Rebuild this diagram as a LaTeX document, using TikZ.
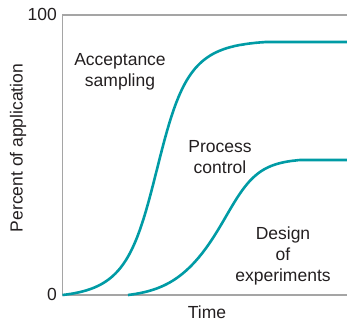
\documentclass[tikz,border=0pt]{standalone}
\usepackage{fontspec}
\setmainfont{Liberation Sans}
\definecolor{teal1}{RGB}{0,155,165}
\definecolor{axisgray}{RGB}{165,165,165}
\definecolor{txt}{RGB}{35,31,32}
\begin{document}
\begin{tikzpicture}[x=1pt,y=-1pt,
  declare function={
    Fa(\t)=0.5/(1+exp(-(\t-157)/12))+0.5/(1+exp(-(\t-157)/25));
    Fb(\t)=1/(1+exp(-(\t-219)/(21-3*tanh((\t-219)/30))));
  },
  axisline/.style={draw=axisgray,line width=1.5pt},
  curve/.style={draw=teal1,line width=2.6pt,line join=round},
  lbl/.style={text=txt,font=\fontsize{17.5}{21}\selectfont,align=center,inner sep=0pt}]
\useasboundingbox (0,0) rectangle (347,323);
\coordinate (tl) at (62.5,15);
\coordinate (bl) at (62.5,295);
\coordinate (tr) at (347,15);
\coordinate (br) at (347,295);
\draw[axisline] (tr) -- (tl) -- (bl) -- (br);
% curves
\pgfmathsetmacro{\aLo}{Fa(62.5)}
\pgfmathsetmacro{\aHi}{Fa(265)}
\pgfmathsetmacro{\bLo}{Fb(128)}
\pgfmathsetmacro{\bHi}{Fb(300)}
\draw[curve] plot[domain=62.5:265,samples=120,smooth]
  (\x,{295-253*(Fa(\x)-\aLo)/(\aHi-\aLo)}) -- (347,42);
\draw[curve] plot[domain=128:300,samples=120,smooth]
  (\x,{295-135*(Fb(\x)-\bLo)/(\bHi-\bLo)}) -- (347,160);
% labels
\node[lbl,anchor=east] (l100) at (57,14) {100};
\node[lbl,anchor=east] (l0) at (57,294) {0};
\node[lbl,rotate=90] (ylab) at (18,148) {Percent of application};
\node[lbl] (time) at (207,312) {Time};
\node[lbl] (acc) at (120,72) {Acceptance\\sampling};
\node[lbl] (pc) at (220,157) {Process\\control};
\node[lbl] (doe) at (283,256) {Design\\of\\experiments};
\end{tikzpicture}
\end{document}
